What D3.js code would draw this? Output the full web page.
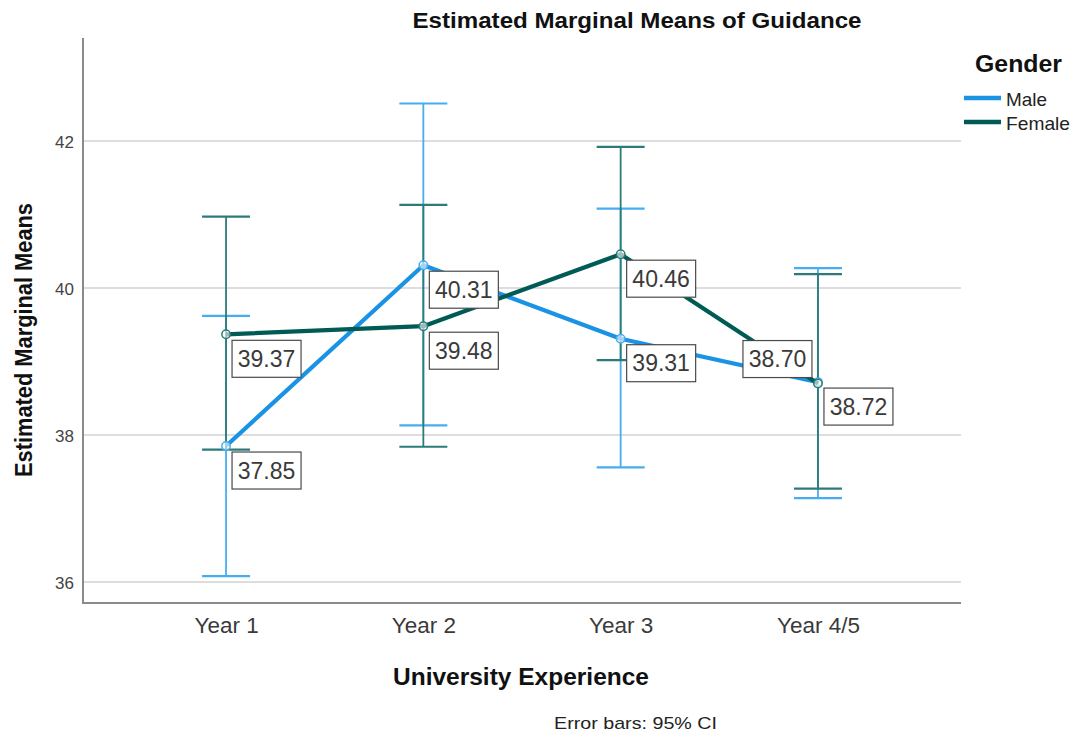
<!DOCTYPE html>
<html>
<head>
<meta charset="utf-8">
<script src="https://cdn.jsdelivr.net/npm/d3@7"></script>
<style>
  html, body { margin: 0; padding: 0; background: #fff; }
  svg { display: block; font-family: "Liberation Sans", Arial, sans-serif; }
</style>
</head>
<body>
<svg id="chart" width="1074" height="736"></svg>
<script>
// Estimated marginal means of Guidance by university year and gender
const categories = ["Year 1", "Year 2", "Year 3", "Year 4/5"];
const yTicks = [36, 38, 40, 42];

const maleMeans   = [37.85, 40.31, 39.31, 38.72];
const maleLower   = [36.08, 38.13, 37.56, 37.14];
const maleUpper   = [39.62, 42.51, 41.08, 40.27];

const femaleMeans = [39.37, 39.48, 40.46, 38.70];
const femaleLower = [37.80, 37.84, 39.02, 37.27];
const femaleUpper = [40.97, 41.13, 41.92, 40.19];

// Where each value label sits relative to its point
const maleLabelSide   = ["br", "br", "br", "br"];
const femaleLabelSide = ["br", "br", "br", "tl"];

const series = [
  { name: "Male",   means: maleMeans,   lower: maleLower,   upper: maleUpper,
    line: "#1b93e5", bar: "#46aef0", sides: maleLabelSide },
  { name: "Female", means: femaleMeans, lower: femaleLower, upper: femaleUpper,
    line: "#005a55", bar: "#2c7b78", sides: femaleLabelSide }
];

const svg = d3.select("#chart");
const frame = { left: 83, right: 961, top: 38, bottom: 603 };

const x = d3.scalePoint().domain(categories).range([frame.left, frame.right]).padding(0.725);
const y = d3.scaleLinear().domain([36, 42]).range([582, 141]);

// Gridlines
svg.append("g")
  .selectAll("line").data(yTicks).join("line")
  .attr("x1", frame.left).attr("x2", frame.right)
  .attr("y1", d => y(d)).attr("y2", d => y(d))
  .attr("stroke", "#d2d2d2").attr("stroke-width", 1.6);

// Y axis
const yAxis = svg.append("g")
  .attr("transform", `translate(${frame.left},0)`)
  .call(d3.axisLeft(y).tickValues(yTicks).tickSize(0).tickPadding(9).tickFormat(d3.format("d")));
yAxis.select(".domain").remove();
yAxis.selectAll("text")
  .attr("font-size", 17).attr("fill", "#444").attr("font-family", "Liberation Sans, Arial, sans-serif")
  .attr("dy", "0.36em");

// X axis
const xAxis = svg.append("g")
  .attr("transform", `translate(0,${frame.bottom})`)
  .call(d3.axisBottom(x).tickSize(0).tickPadding(14));
xAxis.select(".domain").remove();
xAxis.selectAll("text")
  .attr("font-size", 22.5).attr("fill", "#3a3a3a").attr("font-family", "Liberation Sans, Arial, sans-serif");

// Axis frame lines
svg.append("path")
  .attr("d", `M${frame.left},${frame.top}V${frame.bottom}H${frame.right}`)
  .attr("fill", "none").attr("stroke", "#8a8a8a").attr("stroke-width", 2);

// Error bars
const capHalf = 24;
series.forEach(s => {
  const g = svg.append("g");
  categories.forEach((c, i) => {
    const cx = x(c);
    g.append("line").attr("x1", cx).attr("x2", cx)
      .attr("y1", y(s.lower[i])).attr("y2", y(s.upper[i]))
      .attr("stroke", s.bar).attr("stroke-width", 1.8);
    [s.lower[i], s.upper[i]].forEach(v => {
      g.append("line").attr("x1", cx - capHalf).attr("x2", cx + capHalf)
        .attr("y1", y(v)).attr("y2", y(v))
        .attr("stroke", s.bar).attr("stroke-width", 2.2);
    });
  });
});

// Mean lines and markers
const line = d3.line().x((d, i) => x(categories[i])).y(d => y(d));
series.forEach(s => {
  svg.append("path").datum(s.means)
    .attr("d", line).attr("fill", "none")
    .attr("stroke", s.line).attr("stroke-width", 4.2).attr("stroke-linejoin", "round");
  svg.append("g").selectAll("circle").data(s.means).join("circle")
    .attr("cx", (d, i) => x(categories[i])).attr("cy", d => y(d)).attr("r", 4.2)
    .attr("fill", "#ffffff").attr("fill-opacity", 0.6)
    .attr("stroke", s.bar).attr("stroke-width", 1.5);
});

// Value labels
const labels = svg.append("g");
const gap = 6;
series.forEach(s => {
  s.means.forEach((v, i) => {
    const px = x(categories[i]), py = y(v);
    const g = labels.append("g");
    const rect = g.append("rect").attr("fill", "#fff").attr("stroke", "#4a4a4a").attr("stroke-width", 1.2);
    const t = g.append("text").text(d3.format(".2f")(v))
      .attr("font-size", 23).attr("fill", "#3a3a3a").attr("text-anchor", "middle");
    const w = 69, h = 37;
    const bx = s.sides[i] === "tl" ? px - gap - w : px + gap;
    const by = s.sides[i] === "tl" ? py - gap - h : py + gap;
    rect.attr("x", bx).attr("y", by).attr("width", w).attr("height", h);
    t.attr("x", bx + w / 2).attr("y", by + h / 2 + 8.2);
  });
});

// Titles
svg.append("text").text("Estimated Marginal Means of Guidance")
  .attr("x", 637).attr("y", 28).attr("text-anchor", "middle")
  .attr("font-size", 22).attr("font-weight", "bold").attr("fill", "#111")
  .attr("textLength", 449).attr("lengthAdjust", "spacingAndGlyphs");

svg.append("text").text("Estimated Marginal Means")
  .attr("transform", "translate(32,340) rotate(-90)").attr("text-anchor", "middle")
  .attr("font-size", 24).attr("font-weight", "bold").attr("fill", "#111")
  .attr("textLength", 274).attr("lengthAdjust", "spacingAndGlyphs");

svg.append("text").text("University Experience")
  .attr("x", 521).attr("y", 685).attr("text-anchor", "middle")
  .attr("font-size", 23.5).attr("font-weight", "bold").attr("fill", "#111")
  .attr("textLength", 256).attr("lengthAdjust", "spacingAndGlyphs");

svg.append("text").text("Error bars: 95% CI")
  .attr("x", 554).attr("y", 729)
  .attr("font-size", 17).attr("fill", "#222")
  .attr("textLength", 163).attr("lengthAdjust", "spacingAndGlyphs");

// Legend
const legend = svg.append("g");
legend.append("text").text("Gender")
  .attr("x", 975).attr("y", 72)
  .attr("font-size", 24).attr("font-weight", "bold").attr("fill", "#111")
  .attr("textLength", 87).attr("lengthAdjust", "spacingAndGlyphs");
series.forEach((s, i) => {
  const ly = 98 + i * 24;
  legend.append("line").attr("x1", 964).attr("x2", 1001).attr("y1", ly).attr("y2", ly)
    .attr("stroke", s.line).attr("stroke-width", 4.5);
  legend.append("text").text(s.name)
    .attr("x", 1006).attr("y", ly + 8)
    .attr("font-size", 18.5).attr("fill", "#222")
    .attr("textLength", i === 0 ? 41 : 64).attr("lengthAdjust", "spacingAndGlyphs");
});
</script>
</body>
</html>
